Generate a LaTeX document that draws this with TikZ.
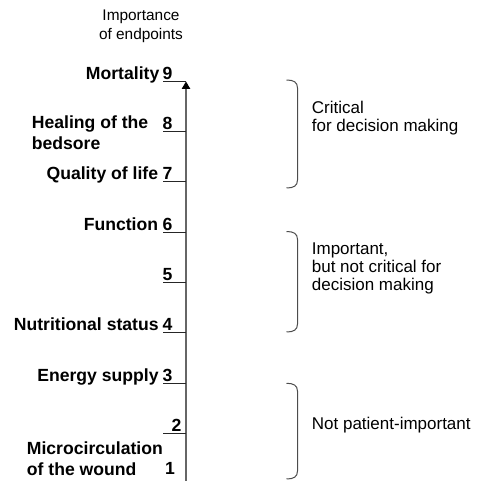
\documentclass[tikz,border=0pt]{standalone}
\usepackage{fontspec}
\setmainfont{Liberation Sans}
\usetikzlibrary{arrows.meta}
\tikzset{
  lbl/.style={font=\fontsize{17.6}{21}\selectfont\bfseries, inner sep=0pt},
  num/.style={font=\fontsize{17.6}{21}\selectfont\bfseries, inner sep=0pt, anchor=base west},
  grp/.style={font=\fontsize{17}{18.3}\selectfont, inner sep=0pt, align=left},
  hdr/.style={font=\fontsize{15.4}{18.6}\selectfont, inner sep=0pt, align=center},
  axisline/.style={draw=black!60, line width=1.1pt},
  tickline/.style={draw=black!85, line width=1pt},
  bracket/.style={draw=black!70, line width=1pt},
}
\begin{document}
\begin{tikzpicture}[x=1pt,y=-1pt]
\useasboundingbox (0,0) rectangle (488,481);
% header
\node[hdr, anchor=north] (hdr) at (141,10) {Importance\\of endpoints};
% axis
\coordinate (axbot) at (186,481);
\coordinate (axtop) at (186,81.5);
\draw[axisline, -{Triangle[width=8.5pt,length=7.5pt,color=black]}] (axbot) -- (axtop);
% ticks
\foreach \k in {2,...,9}{
  \coordinate (t\k) at (186,{81.3+(9-\k)*50.3});
  \coordinate (s\k) at (163,{81.3+(9-\k)*50.3});
  \draw[tickline] (s\k) -- (t\k);
}
% digits
\node[num] (n9) at (162.3,79.3) {9};
\node[num] (n8) at (162.3,129.6) {8};
\node[num] (n7) at (162.3,179.9) {7};
\node[num] (n6) at (162.3,230.2) {6};
\node[num] (n5) at (162.3,280.5) {5};
\node[num] (n4) at (162.3,330.8) {4};
\node[num] (n3) at (162.3,381.1) {3};
\node[num] (n2) at (171.4,431.6) {2};
\node[num] (n1) at (165,475) {1};
% labels
\node[lbl, anchor=base east] (l9) at (159.5,79.3) {Mortality};
\node[lbl, anchor=north west, align=left] (l8) at (31.7,116) {Healing of the\\bedsore};
\node[lbl, anchor=base east] (l7) at (158.3,179.9) {Quality of life};
\node[lbl, anchor=base east] (l6) at (158.3,230.2) {Function};
\node[lbl, anchor=base east] (l4) at (158.8,330.8) {Nutritional status};
\node[lbl, anchor=base east] (l3) at (158.8,381.1) {Energy supply};
\node[lbl, anchor=north west, align=left] (l1) at (26.7,441.5) {Microcirculation\\of the wound};
% brackets
\coordinate (b1a) at (286.5,80);
\coordinate (b1b) at (286.5,188);
\coordinate (b2a) at (286.5,231.5);
\coordinate (b2b) at (286.5,332);
\coordinate (b3a) at (286.5,383.3);
\coordinate (b3b) at (286.5,479);
\foreach \i in {1,2,3}{
  \draw[bracket] (b\i a) .. controls ++(7,0) and ++(0,-6) .. ([shift={(11,8)}]b\i a)
     -- ([shift={(11,-8)}]b\i b) .. controls ++(0,6) and ++(7,0) .. (b\i b);
}
% group texts
\node[grp, anchor=north west] (g1) at (311.7,100.5) {Critical\\for decision making};
\node[grp, anchor=north west] (g2) at (311.7,242.5) {Important,\\but not critical for\\decision making};
\node[grp, anchor=north west] (g3) at (311.7,416.5) {Not patient-important};
\end{tikzpicture}
\end{document}
